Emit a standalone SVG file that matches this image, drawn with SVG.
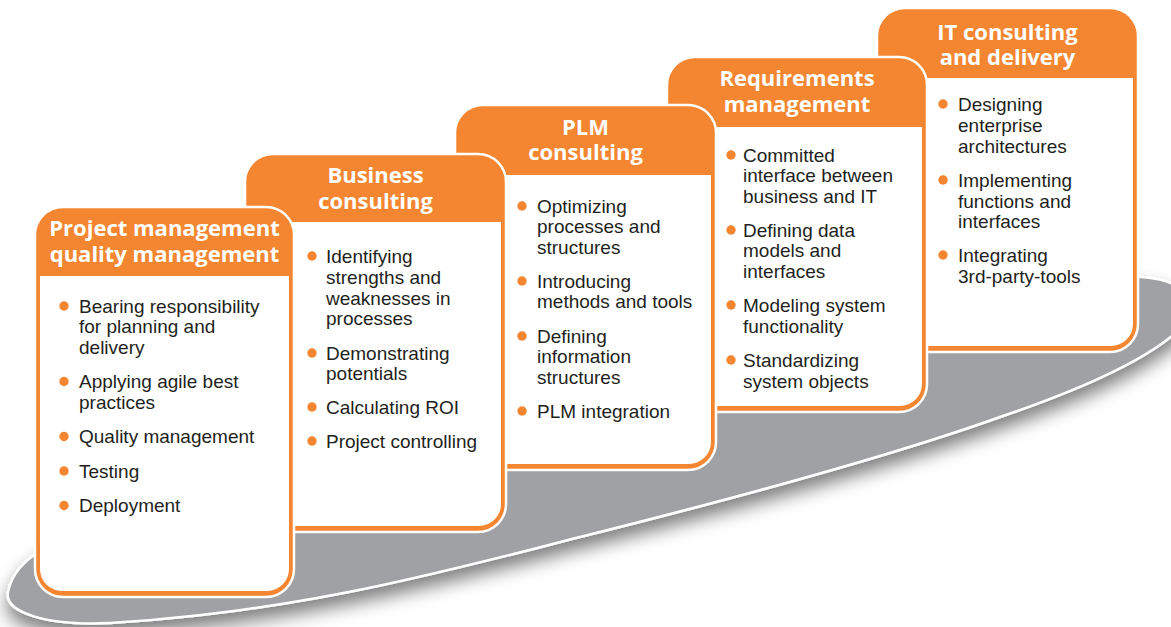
<svg xmlns="http://www.w3.org/2000/svg" width="1171" height="627" viewBox="0 0 1171 627">
<defs>
<style>
.card{fill:#f58631;stroke:#ffffff;stroke-width:2.5}
.body{fill:#ffffff}
.hdr{font-family:"Open Sans","Noto Sans","DejaVu Sans",sans-serif;font-weight:700;font-size:22px;fill:#ffffff;text-anchor:middle}
.item{font-family:"Liberation Sans",Arial,sans-serif;font-size:19px;fill:#231f20}
.dot{fill:#f58631}
</style>
<filter id="shadow" x="-10%" y="-30%" width="120%" height="160%">
<feGaussianBlur in="SourceAlpha" stdDeviation="9"/>
<feOffset dx="0" dy="11" result="b"/>
<feComponentTransfer><feFuncA type="linear" slope="0.5"/></feComponentTransfer>
<feMerge><feMergeNode/><feMergeNode in="SourceGraphic"/></feMerge>
</filter>
</defs>
<rect width="1171" height="627" fill="#ffffff"/>
<g id="base">
<path d="M8,592 C4,612 45,626 110,623 C300,612 450,570 580,537 C720,502 880,460 1000,417 C1100,383 1165,350 1190,318 C1203,298 1178,279 1140,277 C900,270 300,430 60,540 C20,558 11,578 8,592 Z" fill="#a0a1a4" stroke="#ffffff" stroke-width="2.5" filter="url(#shadow)"/>
</g>
<g id="connectors"/>
<g id="card5">
<rect class="card" x="877" y="8" width="261" height="344" rx="28"/>
<path class="body" d="M882,78 H1133 V324 A22,22 0 0 1 1111,346 H904 A22,22 0 0 1 882,324 Z"/>
<text class="hdr" x="1007.5" y="40">IT consulting</text>
<text class="hdr" x="1007.5" y="65">and delivery</text>
<circle class="dot" cx="943" cy="104" r="4.7"/>
<circle class="dot" cx="943" cy="180" r="4.7"/>
<circle class="dot" cx="943" cy="255" r="4.7"/>
<text class="item" x="958" y="110.5">Designing</text>
<text class="item" x="958" y="131.5">enterprise</text>
<text class="item" x="958" y="152.5">architectures</text>
<text class="item" x="958" y="186.5">Implementing</text>
<text class="item" x="958" y="207.5">functions and</text>
<text class="item" x="958" y="227.5">interfaces</text>
<text class="item" x="958" y="261.5">Integrating</text>
<text class="item" x="958" y="282.5">3rd-party-tools</text>
</g>
<g id="card4">
<rect class="card" x="667" y="57" width="260" height="355" rx="28"/>
<path class="body" d="M672,127 H922 V384 A22,22 0 0 1 900,406 H694 A22,22 0 0 1 672,384 Z"/>
<text class="hdr" x="797" y="86">Requirements</text>
<text class="hdr" x="797" y="112">management</text>
<circle class="dot" cx="731" cy="155" r="4.7"/>
<circle class="dot" cx="731" cy="230" r="4.7"/>
<circle class="dot" cx="731" cy="305" r="4.7"/>
<circle class="dot" cx="731" cy="360" r="4.7"/>
<text class="item" x="743" y="161.5">Committed</text>
<text class="item" x="743" y="181.5">interface between</text>
<text class="item" x="743" y="202.5">business and IT</text>
<text class="item" x="743" y="236.5">Defining data</text>
<text class="item" x="743" y="256.5">models and</text>
<text class="item" x="743" y="277.5">interfaces</text>
<text class="item" x="743" y="311.5">Modeling system</text>
<text class="item" x="743" y="332.5">functionality</text>
<text class="item" x="743" y="366.5">Standardizing</text>
<text class="item" x="743" y="387.5">system objects</text>
</g>
<g id="card3">
<rect class="card" x="455" y="105" width="261" height="365" rx="28"/>
<path class="body" d="M460,175 H711 V442 A22,22 0 0 1 689,464 H482 A22,22 0 0 1 460,442 Z"/>
<text class="hdr" x="585.5" y="135">PLM</text>
<text class="hdr" x="585.5" y="160">consulting</text>
<circle class="dot" cx="522" cy="206" r="4.7"/>
<circle class="dot" cx="522" cy="281" r="4.7"/>
<circle class="dot" cx="522" cy="336" r="4.7"/>
<circle class="dot" cx="522" cy="411" r="4.7"/>
<text class="item" x="537" y="212.5">Optimizing</text>
<text class="item" x="537" y="232.5">processes and</text>
<text class="item" x="537" y="253.5">structures</text>
<text class="item" x="537" y="287.5">Introducing</text>
<text class="item" x="537" y="307.5">methods and tools</text>
<text class="item" x="537" y="342.5">Defining</text>
<text class="item" x="537" y="362.5">information</text>
<text class="item" x="537" y="383.5">structures</text>
<text class="item" x="537" y="417.5">PLM integration</text>
</g>
<g id="card2">
<rect class="card" x="245" y="154" width="261" height="378" rx="28"/>
<path class="body" d="M250,222 H501 V504 A22,22 0 0 1 479,526 H272 A22,22 0 0 1 250,504 Z"/>
<text class="hdr" x="375.5" y="183">Business</text>
<text class="hdr" x="375.5" y="209">consulting</text>
<circle class="dot" cx="312" cy="256" r="4.7"/>
<circle class="dot" cx="312" cy="353" r="4.7"/>
<circle class="dot" cx="312" cy="407" r="4.7"/>
<circle class="dot" cx="312" cy="441" r="4.7"/>
<text class="item" x="326" y="262.5">Identifying</text>
<text class="item" x="326" y="283.5">strengths and</text>
<text class="item" x="326" y="304.5">weaknesses in</text>
<text class="item" x="326" y="324.5">processes</text>
<text class="item" x="326" y="359.5">Demonstrating</text>
<text class="item" x="326" y="379.5">potentials</text>
<text class="item" x="326" y="413.5">Calculating ROI</text>
<text class="item" x="326" y="447.5">Project controlling</text>
</g>
<g id="card1">
<rect class="card" x="35" y="207" width="259" height="390" rx="28"/>
<path class="body" d="M40,276 H289 V569 A22,22 0 0 1 267,591 H62 A22,22 0 0 1 40,569 Z"/>
<text class="hdr" x="164.5" y="236">Project management</text>
<text class="hdr" x="164.5" y="262">quality management</text>
<circle class="dot" cx="64" cy="306" r="4.7"/>
<circle class="dot" cx="64" cy="381.5" r="4.7"/>
<circle class="dot" cx="64" cy="436.5" r="4.7"/>
<circle class="dot" cx="64" cy="471" r="4.7"/>
<circle class="dot" cx="64" cy="505.5" r="4.7"/>
<text class="item" x="79" y="312.5">Bearing responsibility</text>
<text class="item" x="79" y="333">for planning and</text>
<text class="item" x="79" y="353.5">delivery</text>
<text class="item" x="79" y="388">Applying agile best</text>
<text class="item" x="79" y="408.5">practices</text>
<text class="item" x="79" y="443">Quality management</text>
<text class="item" x="79" y="477.5">Testing</text>
<text class="item" x="79" y="512">Deployment</text>
</g>
</svg>
